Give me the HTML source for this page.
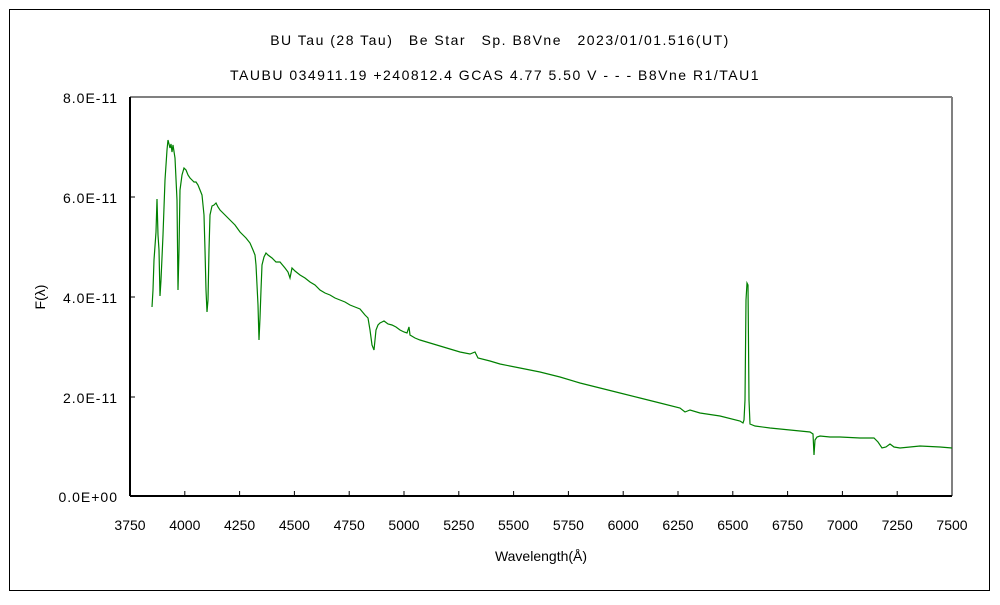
<!DOCTYPE html>
<html><head><meta charset="utf-8"><style>
body{margin:0;background:#fff}
svg text{font-family:"Liberation Sans","Noto Sans CJK JP",sans-serif;font-size:14px;fill:#000}
.t{letter-spacing:1.5px}
.y{letter-spacing:1px}
</style></head><body>
<svg width="1000" height="600" xmlns="http://www.w3.org/2000/svg">
<rect x="0" y="0" width="1000" height="600" fill="#fff"/>
<rect x="9.5" y="9.5" width="980" height="581" fill="none" stroke="#000" stroke-width="1"/>
<text class="t" x="500" y="45" text-anchor="middle">BU Tau (28 Tau)　Be Star　Sp. B8Vne　2023/01/01.516(UT)</text>
<text class="t" x="495" y="80" text-anchor="middle">TAUBU 034911.19 +240812.4 GCAS 4.77 5.50 V - - - B8Vne R1/TAU1</text>
<line x1="130" y1="97" x2="952" y2="97" stroke="#808080" stroke-width="2"/>
<line x1="952" y1="97" x2="952" y2="496" stroke="#808080" stroke-width="2"/>
<line x1="130" y1="97" x2="130" y2="496" stroke="#000" stroke-width="2"/>
<line x1="130" y1="496" x2="952" y2="496" stroke="#000" stroke-width="2"/>
<g stroke="#000" stroke-width="1">
<line x1="130" y1="197" x2="135" y2="197"/><line x1="130" y1="297" x2="135" y2="297"/><line x1="130" y1="397" x2="135" y2="397"/>
<line x1="184.8" y1="496" x2="184.8" y2="491"/><line x1="239.6" y1="496" x2="239.6" y2="491"/><line x1="294.4" y1="496" x2="294.4" y2="491"/><line x1="349.2" y1="496" x2="349.2" y2="491"/><line x1="404" y1="496" x2="404" y2="491"/><line x1="458.8" y1="496" x2="458.8" y2="491"/><line x1="513.6" y1="496" x2="513.6" y2="491"/><line x1="568.4" y1="496" x2="568.4" y2="491"/><line x1="623.2" y1="496" x2="623.2" y2="491"/><line x1="678" y1="496" x2="678" y2="491"/><line x1="732.8" y1="496" x2="732.8" y2="491"/><line x1="787.6" y1="496" x2="787.6" y2="491"/><line x1="842.4" y1="496" x2="842.4" y2="491"/><line x1="897.2" y1="496" x2="897.2" y2="491"/>
</g>
<g text-anchor="end" class="y">
<text x="118" y="103">8.0E-11</text><text x="118" y="203">6.0E-11</text><text x="118" y="303">4.0E-11</text><text x="118" y="403">2.0E-11</text><text x="118" y="502">0.0E+00</text>
</g>
<g text-anchor="middle">
<text x="130" y="530">3750</text><text x="184.8" y="530">4000</text><text x="239.6" y="530">4250</text><text x="294.4" y="530">4500</text><text x="349.2" y="530">4750</text><text x="404" y="530">5000</text><text x="458.8" y="530">5250</text><text x="513.6" y="530">5500</text><text x="568.4" y="530">5750</text><text x="623.2" y="530">6000</text><text x="678" y="530">6250</text><text x="732.8" y="530">6500</text><text x="787.6" y="530">6750</text><text x="842.4" y="530">7000</text><text x="897.2" y="530">7250</text><text x="952" y="530">7500</text>
<text x="541" y="561">Wavelength(Å)</text>
</g>
<text transform="translate(45,297) rotate(-90)" text-anchor="middle">F(λ)</text>
<polyline fill="none" stroke="#008000" stroke-width="1.2" points="152,307 153,290 154,260 156,232 157,199 158,235 159,250 160,296 161,280 163,235 165,180 167,150 168,140 170,148 171,144 172,152 173,145 175,158 177,200 178,290 179,250 180,190 182,175 184,168 186,170 188,175 190,178 192,180 194,182 196,182 198,185 200,190 202,195 204,215 205,250 206,290 207,312 208,300 209,250 210,215 212,206 214,205 216,203 218,207 220,210 222,212 225,215 230,220 235,225 240,232 243,235 246,238 250,243 253,250 255,255 256,265 257,285 258,305 259,340 260,318 261,290 262,265 264,257 266,253 268,255 272,258 276,262 280,262 285,268 288,272 290,278 292,268 295,271 300,275 305,278 310,282 315,285 320,290 325,293 330,295 335,298 340,300 345,302 350,305 355,307 360,309 365,315 368,318 370,330 372,345 374,350 375,340 376,330 378,325 380,323 384,321 388,324 392,325 396,327 400,330 404,332 407,333 409,327 410,335 415,338 420,340 430,343 440,346 450,349 460,352 470,354 475,352 478,358 490,361 500,364 520,368 540,372 560,377 580,383 600,388 620,393 640,398 660,403 680,408 685,412 690,410 700,413 720,416 740,421 743,423 744,420 745,400 746,300 747,283 748,285 749,400 750,424 755,426 770,428 790,430 810,432 813,434 814,455 815,440 817,437 820,436 830,437 840,437 860,438 874,438 878,442 882,448 886,447 890,444 894,447 900,448 920,446 940,447 952,448"/>
</svg>
</body></html>
